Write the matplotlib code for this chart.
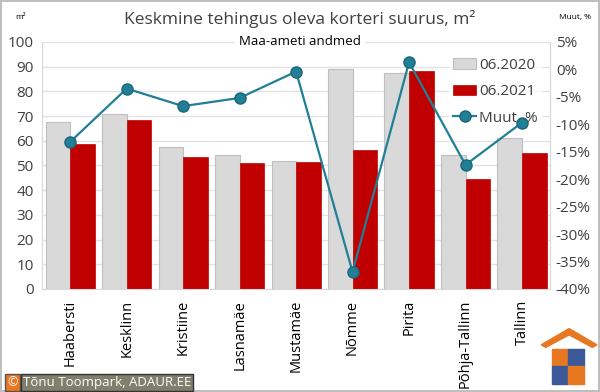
import matplotlib
matplotlib.use("Agg")
import matplotlib.pyplot as plt
import matplotlib.ticker as mticker
from matplotlib.patches import Rectangle, Polygon
import numpy as np

districts = ["Haabersti", "Kesklinn", "Kristiine", "Lasnamäe", "Mustamäe",
             "Nõmme", "Pirita", "Põhja-Tallinn", "Tallinn"]
size_2020 = [67.6, 70.9, 57.5, 54.3, 51.8, 89.1, 87.4, 54.3, 61.1]
size_2021 = [58.7, 68.4, 53.4, 51.0, 51.4, 56.3, 88.3, 44.5, 55.1]
change_pct = [-13.2, -3.5, -6.7, -5.2, -0.4, -36.9, 1.3, -17.4, -9.7]

plt.rcParams["font.family"] = ["Open Sans", "DejaVu Sans"]
grey_txt = "#404040"
teal = "#217F96"

fig = plt.figure(figsize=(6, 3.92), dpi=100)
fig.patch.set_edgecolor("#BFBFBF")
fig.patch.set_linewidth(1.5)
ax = fig.add_axes([0.07, 0.263, 0.847, 0.63])

x = np.arange(len(districts))
w = 0.435
ax.bar(x - w / 2, size_2020, w, color="#D9D9D9", edgecolor="#BFBFBF",
       linewidth=0.8, label="06.2020", zorder=2)
ax.bar(x + w / 2, size_2021, w, color="#C00000", edgecolor="#C00000",
       linewidth=0.5, label="06.2021", zorder=2)
ax.set_ylim(0, 100)
ax.set_xlim(-0.5, len(districts) - 0.5)
ax.yaxis.set_major_locator(mticker.MultipleLocator(10))
ax.grid(axis="y", color="#E3E3E3", linewidth=1, zorder=0)
ax.set_axisbelow(True)
ax.set_xticks(x)
ax.set_xticklabels(districts, rotation=90, fontsize=10.5, color="black")
ax.tick_params(axis="x", length=0, pad=8)
ax.tick_params(axis="y", length=0, labelsize=11, colors=grey_txt, pad=6)
ax.spines["top"].set_visible(False)
for s in ["left", "right", "bottom"]:
    ax.spines[s].set_color("#D9D9D9")

ax2 = ax.twinx()
ax2.plot(x, change_pct, color=teal, linewidth=1.6, marker="o", markersize=8,
         markerfacecolor=teal, markeredgecolor="#1B6678", label="Muut, %", zorder=3)
ax2.set_ylim(-40, 5)
ax2.yaxis.set_major_locator(mticker.MultipleLocator(5))
ax2.yaxis.set_major_formatter(mticker.FuncFormatter(lambda v, _: f"{v:.0f}%"))
ax2.tick_params(axis="y", length=0, labelsize=11, colors=grey_txt, pad=4)
for s in ["top", "left", "bottom"]:
    ax2.spines[s].set_visible(False)
ax2.spines["right"].set_color("#D9D9D9")

# legend lives on the lower axes so the line is drawn over it
h1, l1 = ax.get_legend_handles_labels()
h2, l2 = ax2.get_legend_handles_labels()
leg = ax.legend(h1 + h2, l1 + l2, loc="upper right", bbox_to_anchor=(1.0, 0.985),
                frameon=True, fontsize=11, handlelength=1.5, handletextpad=0.2,
                labelspacing=0.75, borderpad=0.3, fancybox=False)
leg.get_frame().set_edgecolor("none")
leg.get_frame().set_facecolor("white")
for t in leg.get_texts():
    t.set_color(grey_txt)

fig.text(0.5, 0.951, "Keskmine tehingus oleva korteri suurus, m²", ha="center",
         va="center", fontsize=12.5, color=grey_txt)
fig.text(0.5, 0.895, "Maa-ameti andmed", ha="center", va="center", fontsize=9.5,
         color="black", bbox=dict(facecolor="white", edgecolor="none", pad=3))
fig.text(0.025, 0.955, "m²", ha="left", va="center", fontsize=6, color="black")
fig.text(0.958, 0.955, "Muut, %", ha="center", va="center", fontsize=6, color="black")

# copyright badge
fig.text(0.012, 0.025, "©", ha="left", va="center", fontsize=9, color="white",
         bbox=dict(facecolor="#E87722", edgecolor="#555555", pad=1.5))
fig.text(0.038, 0.025, "Tõnu Toompark, ADAUR.EE", ha="left", va="center",
         fontsize=9.5, color="white",
         bbox=dict(facecolor="#7F7F6B", edgecolor="#333333", pad=1.5))

# small logo
lg = fig.add_axes([0.9, 0.005, 0.097, 0.16])
lg.set_xlim(0, 1)
lg.set_ylim(0, 1)
lg.axis("off")
lg.add_patch(Polygon([[0.02, 0.72], [0.5, 0.98], [0.98, 0.72], [0.9, 0.68],
                      [0.5, 0.88], [0.1, 0.68]], color="#E87722"))
lg.add_patch(Rectangle((0.2, 0.38), 0.28, 0.28, color="#E87722"))
lg.add_patch(Rectangle((0.48, 0.38), 0.28, 0.28, color="#3B5998"))
lg.add_patch(Rectangle((0.2, 0.1), 0.28, 0.28, color="#3B5998"))
lg.add_patch(Rectangle((0.48, 0.1), 0.28, 0.28, color="#E87722"))

fig.savefig("out.png", dpi=100)
